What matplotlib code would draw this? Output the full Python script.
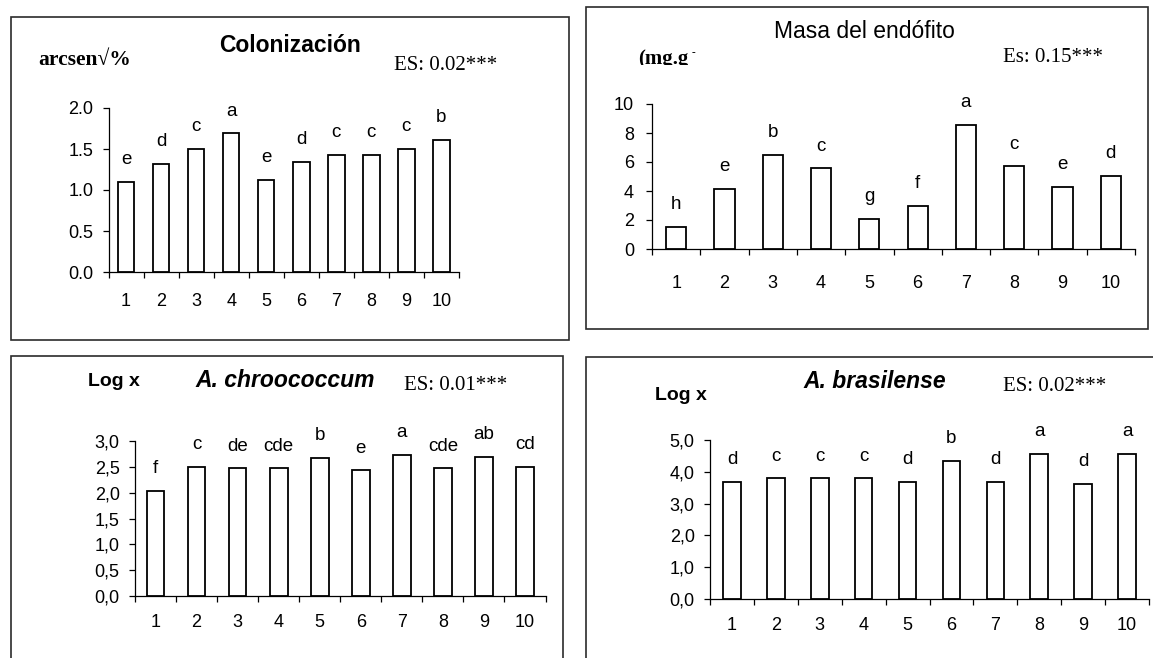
import matplotlib
matplotlib.use("Agg")
import matplotlib.pyplot as plt
from matplotlib.patches import Rectangle
from matplotlib.transforms import Bbox
from matplotlib.ticker import FixedLocator, FuncFormatter

W, H = 1153, 658

categories = ["1", "2", "3", "4", "5", "6", "7", "8", "9", "10"]

colonizacion = [1.10, 1.32, 1.50, 1.69, 1.12, 1.34, 1.43, 1.43, 1.50, 1.61]
colonizacion_letras = ["e", "d", "c", "a", "e", "d", "c", "c", "c", "b"]

masa = [1.54, 4.14, 6.51, 5.56, 2.07, 2.97, 8.57, 5.70, 4.28, 5.06]
masa_letras = ["h", "e", "b", "c", "g", "f", "a", "c", "e", "d"]

chroococcum = [2.04, 2.50, 2.47, 2.47, 2.67, 2.43, 2.73, 2.47, 2.70, 2.50]
chroococcum_letras = ["f", "c", "de", "cde", "b", "e", "a", "cde", "ab", "cd"]

brasilense = [3.68, 3.79, 3.79, 3.79, 3.68, 4.34, 3.68, 4.56, 3.62, 4.56]
brasilense_letras = ["d", "c", "c", "c", "d", "b", "d", "a", "d", "a"]

SANS = ["Liberation Sans", "DejaVu Sans"]
SERIF = ["Liberation Serif", "DejaVu Serif"]

fig = plt.figure(figsize=(W / 100, H / 100), dpi=100)


def px(x, y):
    return x / W, 1 - y / H


def make_axes(x0, y0, x1, y1):
    return fig.add_axes([x0 / W, 1 - y1 / H, (x1 - x0) / W, (y1 - y0) / H])


def frame(x0, y0, x1, y1):
    r = Rectangle(px(x0, y1), (x1 - x0) / W, (y1 - y0) / H, transform=fig.transFigure,
                  fill=False, edgecolor="#2b2b2b", linewidth=1.2, clip_on=False)
    fig.patches.append(r)


def bar_panel(ax, values, letters, ymax, step, fmt, width, xpad, ypad):
    x = list(range(1, len(values) + 1))
    ax.bar(x, values, width=width, color="white", edgecolor="black", linewidth=1.3, zorder=3)
    for xi, v, lab in zip(x, values, letters):
        ax.annotate(lab, (xi, v), xytext=(0, 12.8), textcoords="offset points",
                    ha="center", va="baseline", fontsize=13.5, family=SANS)
    ax.set_xlim(0.5, len(values) + 0.5)
    ax.set_ylim(0, ymax)
    ax.xaxis.set_major_locator(FixedLocator([i + 0.5 for i in range(len(values) + 1)]))
    ax.xaxis.set_minor_locator(FixedLocator(x))
    ax.set_xticklabels([], minor=False)
    ax.set_xticklabels(categories, minor=True, fontsize=13, family=SANS)
    ax.tick_params(axis="x", which="major", direction="out", length=4, width=0.9)
    ax.tick_params(axis="x", which="minor", length=0, pad=xpad)
    ticks = [i * step for i in range(int(round(ymax / step)) + 1)]
    ax.set_yticks(ticks)
    ax.yaxis.set_major_formatter(FuncFormatter(fmt))
    ax.tick_params(axis="y", direction="out", length=4, width=0.9, pad=ypad, labelsize=13)
    for lbl in ax.get_yticklabels():
        lbl.set_family(SANS)
    for s in ["top", "right"]:
        ax.spines[s].set_visible(False)
    for s in ["left", "bottom"]:
        ax.spines[s].set_linewidth(0.9)
    ax.patch.set_alpha(0)


def clipped_text(x, y, s, clip_y, **kw):
    t = fig.text(*px(x, y), s, **kw)
    t.set_clip_box(Bbox([[0, (H - clip_y)], [W, H]]))
    t.set_clip_on(True)
    return t


# panel 1: Colonización
frame(11, 17, 569, 340)
ax1 = make_axes(108.5, 108, 459, 272)
bar_panel(ax1, colonizacion, colonizacion_letras, 2.0, 0.5, lambda v, p: f"{v:.1f}", 0.47, 15, 7)
fig.text(*px(290, 45), "Colonización", ha="center", va="center", fontsize=16.5,
         fontweight="bold", family=SANS)
clipped_text(38, 60, "arcsen√%", 66, ha="left", va="center", fontsize=15.5,
             fontweight="bold", family=SERIF)
fig.text(*px(394, 65), "ES: 0.02***", ha="left", va="center", fontsize=15, family=SERIF)

# panel 2: Masa del endófito
frame(586, 7, 1148, 329)
ax2 = make_axes(652, 104, 1135, 249)
bar_panel(ax2, masa, masa_letras, 10, 2, lambda v, p: f"{v:.0f}", 0.42, 19, 9)
fig.text(*px(864, 32), "Masa del endófito", ha="center", va="center", fontsize=16.5, family=SANS)
clipped_text(638, 59, "(mg.g", 65, ha="left", va="center", fontsize=15,
             fontweight="bold", family=SERIF)
clipped_text(692, 53, "-", 65, ha="left", va="center", fontsize=8,
             fontweight="bold", family=SERIF)
fig.text(*px(1003, 58), "Es: 0.15***", ha="left", va="center", fontsize=15, family=SERIF)

# panel 3: A. chroococcum
frame(11, 356, 563, 720)
ax3 = make_axes(135, 441, 545.5, 596)
bar_panel(ax3, chroococcum, chroococcum_letras, 3.0, 0.5,
          lambda v, p: f"{v:.1f}".replace(".", ","), 0.43, 13, 7)
fig.text(*px(88, 382), "Log x", ha="left", va="center", fontsize=14,
         fontweight="bold", family=SANS)
fig.text(*px(285, 381), "A. chroococcum", ha="center", va="center", fontsize=16.5,
         fontweight="bold", fontstyle="italic", family=SANS)
fig.text(*px(404, 385), "ES: 0.01***", ha="left", va="center", fontsize=15, family=SERIF)

# panel 4: A. brasilense
frame(586, 357, 1250, 720)
ax4 = make_axes(710, 440, 1149, 599)
bar_panel(ax4, brasilense, brasilense_letras, 5.0, 1.0,
          lambda v, p: f"{v:.1f}".replace(".", ","), 0.40, 13, 7)
fig.text(*px(655, 396), "Log x", ha="left", va="center", fontsize=14,
         fontweight="bold", family=SANS)
fig.text(*px(875, 382), "A. brasilense", ha="center", va="center", fontsize=16.5,
         fontweight="bold", fontstyle="italic", family=SANS)
fig.text(*px(1003, 386), "ES: 0.02***", ha="left", va="center", fontsize=15, family=SERIF)

fig.savefig("out.png", dpi=100, facecolor="white")
